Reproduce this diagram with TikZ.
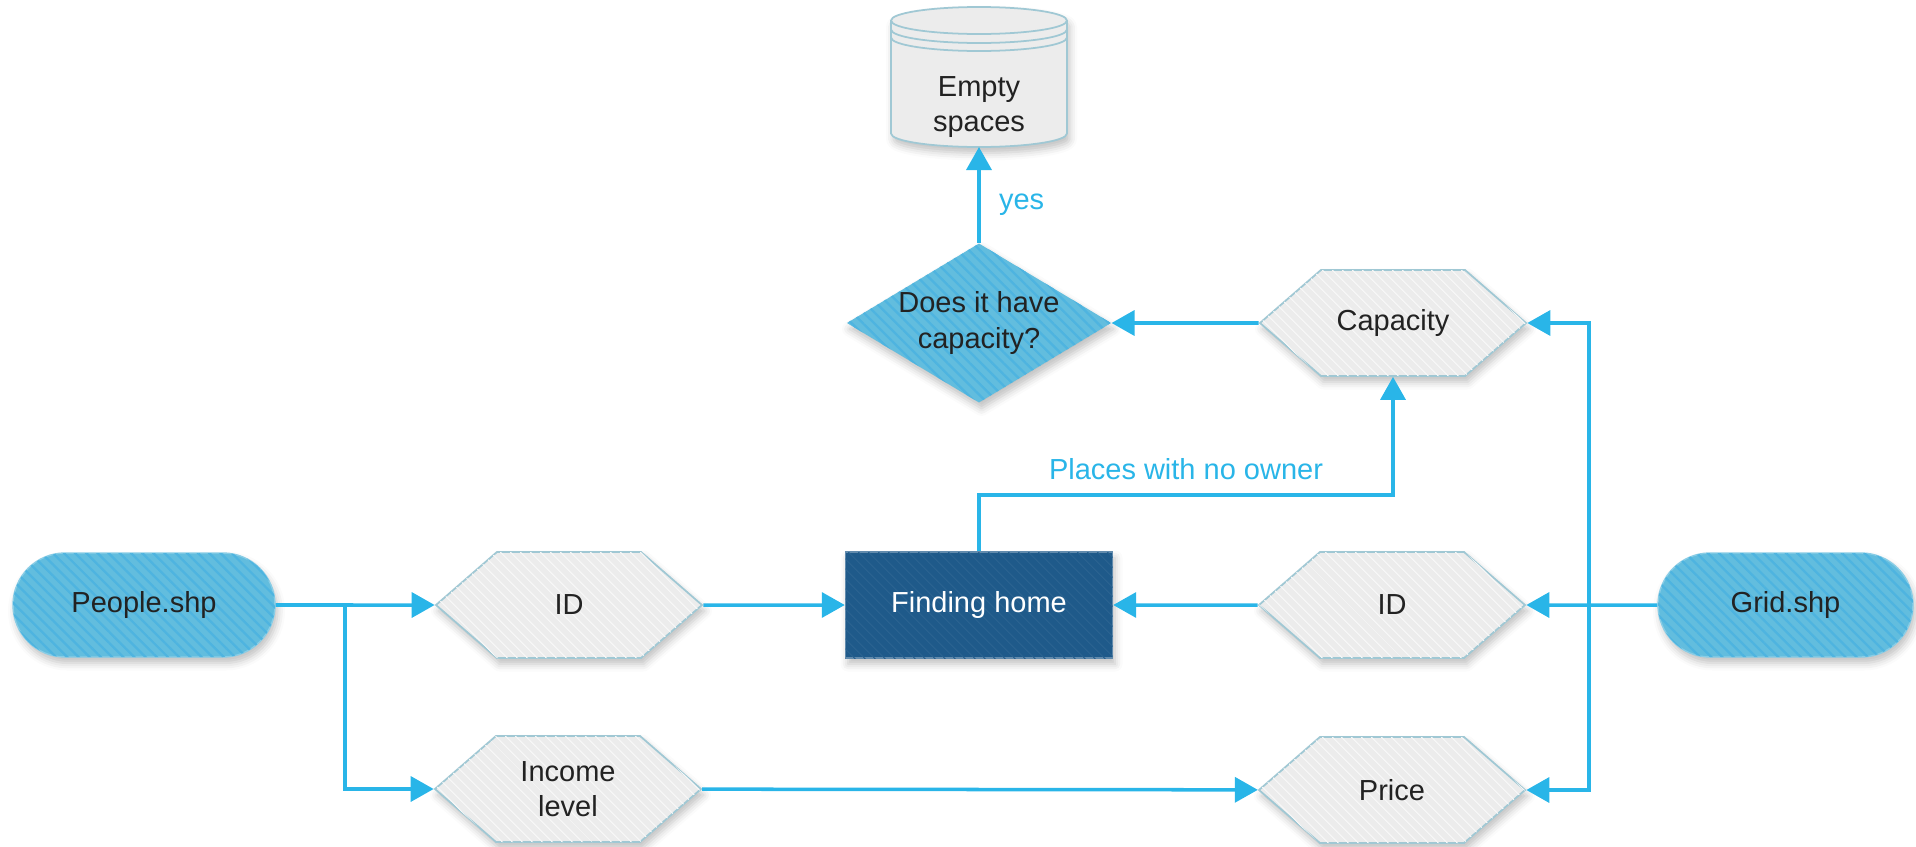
\documentclass[tikz,border=0pt]{standalone}
\usepackage{fontspec}
\setmainfont{Liberation Sans}
\usetikzlibrary{shapes.geometric,shapes.misc,shapes.symbols,arrows.meta,patterns.meta,shadows.blur}

\definecolor{flowblue}{RGB}{41,181,232}
\definecolor{shpfill}{RGB}{98,189,222}
\definecolor{shpstripe}{RGB}{78,180,224}
\definecolor{hexfill}{RGB}{236,236,236}
\definecolor{hexline}{RGB}{160,200,212}
\definecolor{homefill}{RGB}{31,90,138}
\definecolor{inktext}{RGB}{34,34,34}

\tikzset{
  base/.style={font=\fontsize{16.5}{20}\selectfont, text=inktext, align=center, inner sep=0pt,
    blur shadow={shadow xshift=0.05cm, shadow yshift=-0.12cm, shadow blur radius=0.15cm, shadow opacity=25}},
  shpfile/.style={base, rounded rectangle, draw=shpfill!75!white, line width=0.8pt, fill=shpfill,
    minimum width=5.24cm, minimum height=2.08cm,
    postaction={pattern={Lines[angle=-45,distance=4.5pt,line width=1.3pt]}, pattern color=shpstripe}},
  attr/.style={base, signal, signal to=west and east, signal pointer angle=82, draw=hexline, line width=1pt,
    fill=hexfill, minimum width=5.32cm, minimum height=2.12cm,
    postaction={pattern={Lines[angle=-45,distance=4pt,line width=0.6pt]}, pattern color=hexfill!40!white}},
  process/.style={base, rectangle, draw=homefill!70!white, line width=0.8pt, fill=homefill, text=white,
    minimum width=5.34cm, minimum height=2.12cm,
    postaction={pattern={Lines[angle=-45,distance=4pt,line width=0.6pt]}, pattern color=homefill!95!white}},
  decision/.style={base, diamond, fill=shpfill, minimum width=5.24cm, minimum height=3.16cm, aspect=1.66,
    postaction={pattern={Lines[angle=-45,distance=4.5pt,line width=1.3pt]}, pattern color=shpstripe}},
  store/.style={draw=hexline, line width=1pt, fill=hexfill,
    blur shadow={shadow xshift=0.05cm, shadow yshift=-0.12cm, shadow blur radius=0.15cm, shadow opacity=25}},
  storetext/.style={font=\fontsize{16.5}{20}\selectfont, text=inktext, align=center, inner sep=0pt,
    minimum width=3.52cm, minimum height=1.6cm},
  flow/.style={draw=flowblue, line width=2pt, -{Triangle[length=0.46cm,width=0.5cm]}},
  flowlabel/.style={font=\fontsize{16.5}{20}\selectfont, text=flowblue},
}

\begin{document}
\begin{tikzpicture}
    \useasboundingbox (0,0) rectangle (38.32,-16.94);

    % Parameters of the store drum
    \def\dbX{19.58}
    \def\dbTop{-0.14}
    \def\dbBot{-2.94}
    \def\dbR{1.76}
    \def\dbRy{0.27}

    % Empty spaces store
    \draw[store] ({\dbX-\dbR},{\dbTop-\dbRy}) arc[start angle=180, end angle=0, x radius=\dbR, y radius=\dbRy]
        -- ({\dbX+\dbR},{\dbBot+\dbRy}) arc[start angle=0, end angle=-180, x radius=\dbR, y radius=\dbRy] -- cycle;
    \foreach \drop in {0,0.18,0.34}
        \draw[draw=hexline, line width=1pt] ({\dbX-\dbR},{\dbTop-\dbRy-\drop})
            arc[start angle=180, end angle=360, x radius=\dbR, y radius=\dbRy];
    \node[storetext] (empty) at (\dbX,-2.14) {Empty\\spaces};

    % Inputs
    \node[shpfile] (people) at (2.88,-12.10) {People.shp};
    \node[shpfile, minimum width=5.1cm] (grid) at (35.71,-12.10) {Grid.shp};

    % Attribute fields
    \node[attr] (idL) at (11.38,-12.10) {ID};
    \node[attr] (income) at (11.36,-15.78) {Income\\level};
    \node[attr] (idR) at (27.84,-12.10) {ID};
    \node[attr] (price) at (27.84,-15.80) {Price};
    \node[attr] (capacity) at (27.86,-6.46) {Capacity};

    % Process and check
    \node[process] (home) at (19.58,-12.10) {Finding home};
    \node[decision] (check) at (19.58,-6.46) {Does it have\\capacity?};

    % Junctions
    \coordinate (split) at (6.9,-12.10);
    \coordinate (bus) at (31.78,-12.10);
    \coordinate (bend) at (27.86,-9.9);

    % Connectors
    \draw[flow] (people) -- (idL);
    \draw[flow] (split) |- (income.west);
    \draw[flow] (idL) -- (home);
    \draw[flow] (income) -- (price);
    \draw[flow] (grid) -- (idR);
    \draw[flow] (idR) -- (home);
    \draw[flow] (bus) |- (capacity.east);
    \draw[flow] (bus) |- (price.east);
    \draw[flow] (home.north) |- (bend) node[flowlabel, pos=0.75, above=0.15cm] {Places with no owner} -- (capacity.south);
    \draw[flow] (capacity) -- (check);
    \draw[flow] (check.north) -- (empty.south |- 0,-2.94) node[flowlabel, pos=0.4, right=0.25cm] {yes};
\end{tikzpicture}
\end{document}
